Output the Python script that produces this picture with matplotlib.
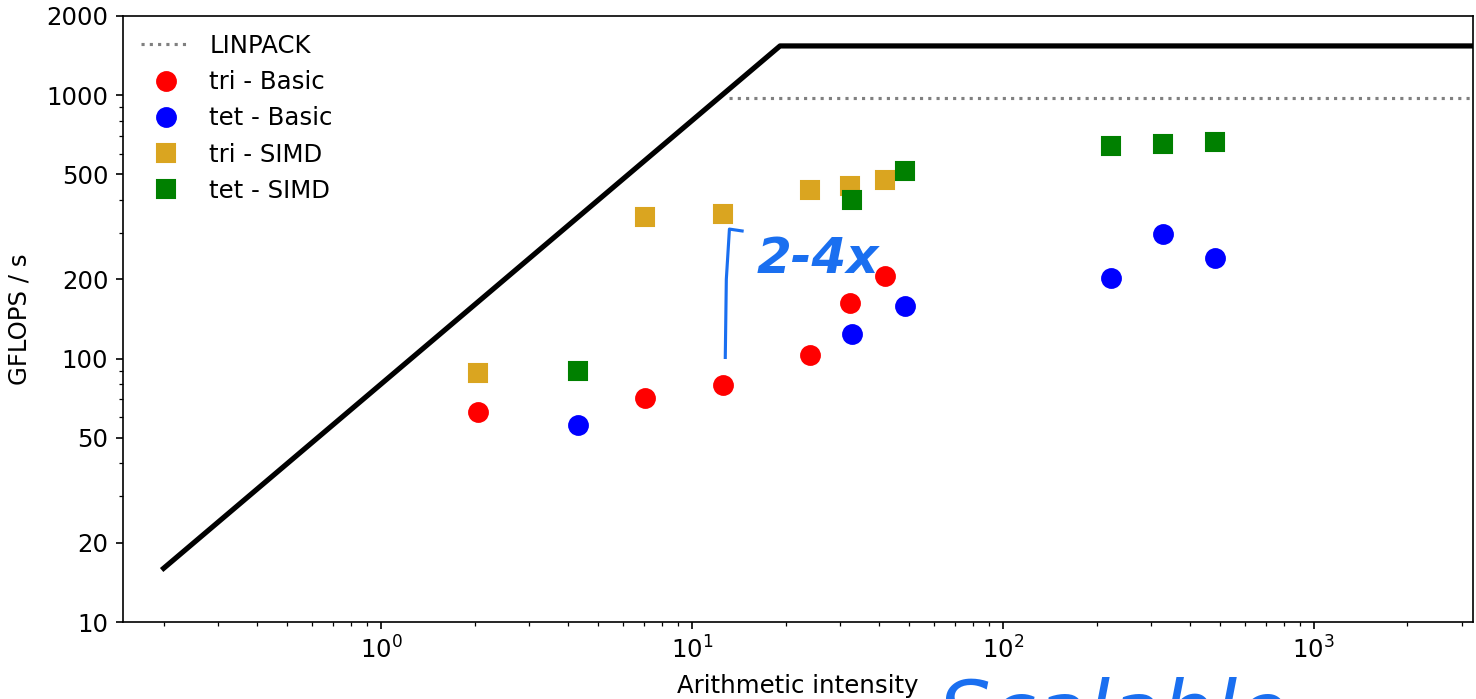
import numpy as np
import matplotlib
matplotlib.use("Agg")
import matplotlib.pyplot as plt

# roofline parameters
peak_gflops = 1536.0
bandwidth = 80.0  # GB/s
linpack_gflops = 975.0

# measured points (arithmetic intensity, GFLOPS/s)
tri_ai = [2.05, 7.05, 12.6, 24.0, 32.3, 41.7]
tri_basic = [62.5, 71.0, 79.5, 103.5, 163, 206]
tri_simd = [88.5, 346, 355, 438, 453, 478]

tet_ai = [4.3, 32.6, 48.3, 222, 327, 480]
tet_basic = [55.8, 123.5, 159, 203, 296, 240]
tet_simd = [90, 401, 517, 643, 654, 666]


def main():
    plt.rcParams['font.size'] = 11.7
    fig = plt.figure(figsize=(9.84, 4.66), dpi=150)
    ax = fig.add_axes([0.0833, 0.110, 0.9147, 0.8675])

    knee = peak_gflops / bandwidth
    ai_roof = np.array([0.2, knee, 5000])
    ax.plot(ai_roof, np.minimum(bandwidth * ai_roof, peak_gflops),
            color='black', lw=2.5, zorder=3)
    ax.plot([linpack_gflops / bandwidth * 1.08, 5000], [linpack_gflops, linpack_gflops],
            ls=':', color='gray', lw=1.5, label='LINPACK')

    ax.plot(tri_ai, tri_basic, 'o', color='red', ms=9, ls='none', label='tri - Basic')
    ax.plot(tet_ai, tet_basic, 'o', color='blue', ms=9, ls='none', label='tet - Basic')
    ax.plot(tri_ai, tri_simd, 's', color='goldenrod', ms=8.5, ls='none', label='tri - SIMD')
    ax.plot(tet_ai, tet_simd, 's', color='green', ms=8.5, ls='none', label='tet - SIMD')

    ax.set_xscale('log')
    ax.set_yscale('log')
    ax.set_xlim(0.148, 3250)
    ax.set_ylim(10, 2000)
    yt = [10, 20, 50, 100, 200, 500, 1000, 2000]
    ax.set_yticks(yt)
    ax.set_yticklabels([str(v) for v in yt])
    ax.set_xlabel('Arithmetic intensity', labelpad=5)
    ax.set_ylabel('GFLOPS / s', labelpad=7)
    ax.legend(loc='upper left', frameon=False, borderaxespad=0.35)

    # handwritten notes
    ax.plot([12.8, 12.9, 13.2, 14.5], [101, 200, 310, 305], color='#1a6ff0', lw=1.5, zorder=4)
    ax.text(16.2, 212, '2-4x', color='#1a6ff0', fontsize=24, fontstyle='italic',
            fontweight='bold', zorder=4)
    fig.text(0.635, -0.06, 'Scalable', color='#1a6ff0', fontsize=40,
             fontstyle='italic')

    fig.savefig('out.png', dpi=150)


if __name__ == '__main__':
    main()
